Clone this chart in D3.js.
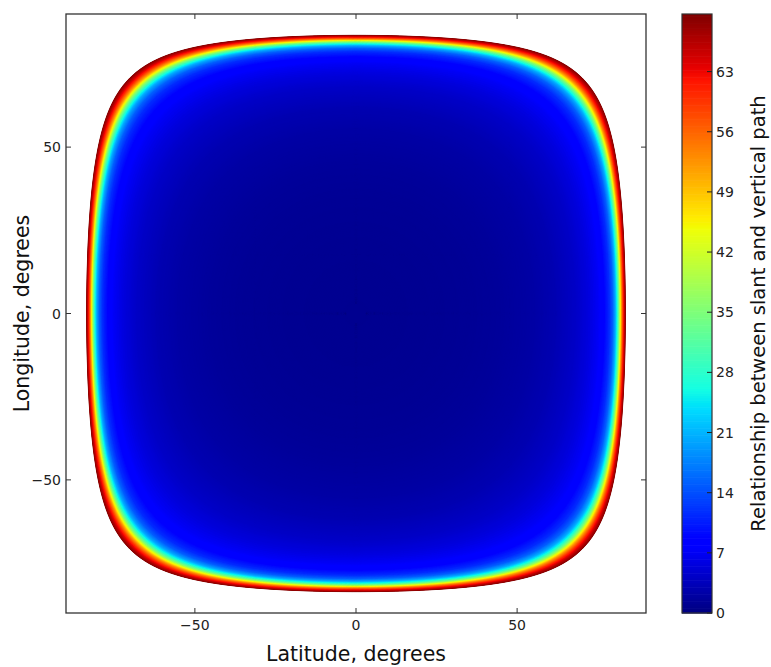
<!DOCTYPE html>
<html>
<head>
<meta charset="utf-8">
<script src="https://cdn.jsdelivr.net/npm/d3@7"></script>
<style>
  body { margin: 0; background: #fff; }
  svg { display: block; font-family: "DejaVu Sans", sans-serif; }
</style>
</head>
<body>
<svg id="chart" width="771" height="667"></svg>
<script>
// slant/vertical path ratio read along the centre row, as a function of the
// angular distance (deg) from the point (0, 0)
var pathAngle = [0, 20, 35, 45, 55, 62, 68, 72, 75, 77, 78.5, 79.5, 80.3, 80.9, 81.4, 81.8, 82.2, 82.7, 83.2, 83.6]
var pathRatio = [1.0, 1.1, 1.3, 1.6, 2.2, 3.0, 4.2, 5.5, 7.0, 8.8, 11.5, 15, 20, 27, 35, 44, 52, 60, 66, 69.7]

var xTicks = [-50, 0, 50]
var yTicks = [-50, 0, 50]
var cbTicks = [0, 7, 14, 21, 28, 35, 42, 49, 56, 63]
var cbMax = 69.7

var svg = d3.select("#chart")

var margin = {top: 14, left: 66, right: 125, bottom: 54}
var width = 580, height = 599

var x = d3.scaleLinear().domain([-90, 90]).range([margin.left, margin.left + width])
var y = d3.scaleLinear().domain([-90, 90]).range([margin.top + height, margin.top])

// matplotlib "jet"
var jetR = d3.scaleLinear().domain([0, 0.35, 0.66, 0.89, 1]).range([0, 0, 1, 1, 0.5]).clamp(true)
var jetG = d3.scaleLinear().domain([0, 0.125, 0.375, 0.64, 0.91, 1]).range([0, 0, 1, 1, 0, 0]).clamp(true)
var jetB = d3.scaleLinear().domain([0, 0.11, 0.34, 0.65, 1]).range([0.5, 1, 1, 0, 0]).clamp(true)
var norm = d3.scaleLinear().domain([0, cbMax]).range([0, 1]).clamp(true)
function color(v){
    var t = norm(v)
    return d3.rgb(jetR(t) * 255, jetG(t) * 255, jetB(t) * 255).formatHex()
}

// profile scales (angle -> ratio and back)
var ratioAt = d3.scaleLinear().domain(pathAngle).range(pathRatio)
var angleAt = d3.scaleLinear().domain(pathRatio).range(pathAngle)

// band edges: regular steps in angle plus regular steps in ratio
var edges = d3.range(3, d3.max(pathAngle), 0.5)
    .concat(d3.range(1.25, cbMax, 0.25).map(function(v){ return angleAt(v) }))
    .filter(function(g){ return g >= 3 })
edges.push(d3.max(pathAngle))
edges.sort(function(a, b){ return b - a })

var line = d3.line()
    .x(function(p){ return x(p[1]) })
    .y(function(p){ return y(p[0]) })

var field = svg.append("g")
edges.forEach(function(g){
    var ring = d3.geoCircle().center([0, 0]).radius(g).precision(0.4)().coordinates[0]
    field.append("path")
        .attr("d", line(ring) + "Z")
        .attr("fill", color(ratioAt(g)))
        .attr("stroke", color(ratioAt(g)))
        .attr("stroke-width", 0.4)
})

// frame and ticks (inside, on all four sides)
var axisColor = "#333"
svg.append("rect")
    .attr("x", margin.left).attr("y", margin.top)
    .attr("width", width).attr("height", height)
    .attr("fill", "none").attr("stroke", axisColor).attr("stroke-width", 1.3)

var tl = 5
xTicks.forEach(function(t){
    svg.append("line").attr("x1", x(t)).attr("x2", x(t))
        .attr("y1", margin.top + height).attr("y2", margin.top + height - tl)
        .attr("stroke", axisColor)
    svg.append("line").attr("x1", x(t)).attr("x2", x(t))
        .attr("y1", margin.top).attr("y2", margin.top + tl)
        .attr("stroke", axisColor)
})
yTicks.forEach(function(t){
    svg.append("line").attr("x1", margin.left).attr("x2", margin.left + tl)
        .attr("y1", y(t)).attr("y2", y(t))
        .attr("stroke", axisColor)
    svg.append("line").attr("x1", margin.left + width).attr("x2", margin.left + width - tl)
        .attr("y1", y(t)).attr("y2", y(t))
        .attr("stroke", axisColor)
})

var fmt = d3.format("d")
svg.append("g").selectAll("text").data(xTicks).join("text")
    .attr("x", function(d){ return x(d) })
    .attr("y", margin.top + height + 17)
    .attr("text-anchor", "middle")
    .attr("font-size", 14)
    .attr("fill", "#222")
    .text(fmt)
svg.append("g").selectAll("text").data(yTicks).join("text")
    .attr("x", margin.left - 5)
    .attr("y", function(d){ return y(d) + 5 })
    .attr("text-anchor", "end")
    .attr("font-size", 14)
    .attr("fill", "#222")
    .text(fmt)

svg.append("text")
    .attr("x", x(0)).attr("y", 661)
    .attr("text-anchor", "middle")
    .attr("font-size", 20.5)
    .attr("fill", "#111")
    .text("Latitude, degrees")
svg.append("text")
    .attr("transform", "translate(29," + y(0) + ") rotate(-90)")
    .attr("text-anchor", "middle")
    .attr("font-size", 20.5)
    .attr("fill", "#111")
    .text("Longitude, degrees")

// colour bar
var cbX = 682, cbW = 30
var cy = d3.scaleLinear().domain([0, cbMax]).range([margin.top + height, margin.top])
var steps = d3.range(0, 256)
var cb = svg.append("g")
cb.selectAll("rect").data(steps).join("rect")
    .attr("x", cbX)
    .attr("width", cbW)
    .attr("y", function(i){ return cy(cbMax * (i + 1) / 256) })
    .attr("height", function(i){ return cy(cbMax * i / 256) - cy(cbMax * (i + 1) / 256) + 0.6 })
    .attr("fill", function(i){ return color(cbMax * (i + 0.5) / 256) })
cb.append("rect")
    .attr("x", cbX).attr("y", margin.top)
    .attr("width", cbW).attr("height", height)
    .attr("fill", "none").attr("stroke", axisColor).attr("stroke-width", 1.2)
cbTicks.forEach(function(t){
    cb.append("line")
        .attr("x1", cbX + cbW).attr("x2", cbX + cbW - 5)
        .attr("y1", cy(t)).attr("y2", cy(t))
        .attr("stroke", "#222")
    cb.append("text")
        .attr("x", cbX + cbW + 4)
        .attr("y", cy(t) + 5)
        .attr("font-size", 14)
        .attr("fill", "#222")
        .text(t)
})
svg.append("text")
    .attr("transform", "translate(765," + cy(cbMax / 2) + ") rotate(-90)")
    .attr("text-anchor", "middle")
    .attr("font-size", 19.5)
    .attr("fill", "#111")
    .text("Relationship between slant and vertical path")
</script>
</body>
</html>
